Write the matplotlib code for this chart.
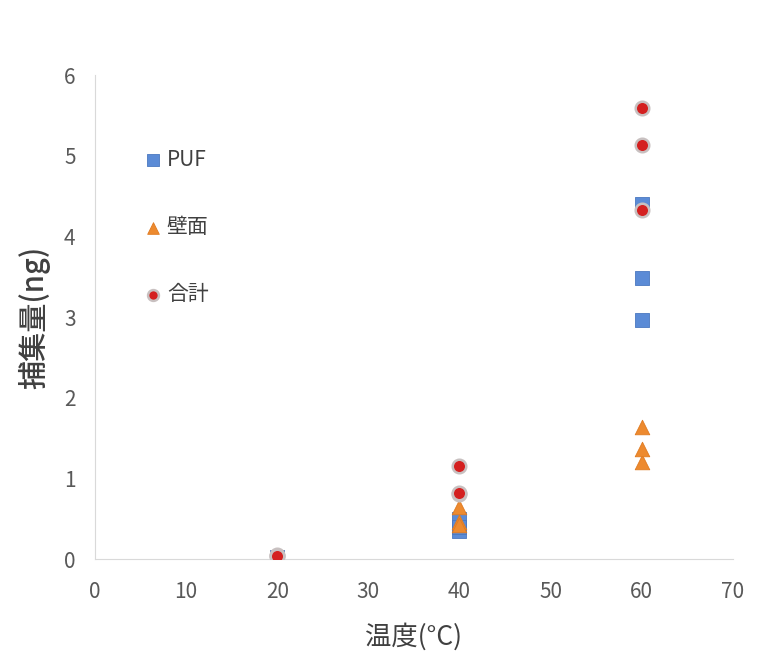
import matplotlib
matplotlib.use("Agg")
import matplotlib.pyplot as plt

plt.rcParams['font.family'] = ['Noto Sans CJK JP', 'DejaVu Sans']

# temperature (°C) for each replicate
temps = [20, 20, 20, 40, 40, 40, 60, 60, 60]
puf = [0.01, 0.02, 0.01, 0.50, 0.35, 0.40, 4.40, 3.49, 2.96]
wall = [0.02, 0.03, 0.02, 0.65, 0.46, 0.42, 1.21, 1.64, 1.36]
total = [0.04, 0.05, 0.04, 1.16, 0.81, 0.82, 5.59, 5.14, 4.33]

fig = plt.figure(figsize=(7.63, 6.72), dpi=100)
ax = fig.add_axes([0.1245, 0.168, 0.836, 0.72])

ax.scatter(temps, puf, marker='s', s=100, color='#5b8bd6', edgecolors='#4a78c0',
           linewidths=0.6, label='PUF', zorder=3)
ax.scatter(temps, wall, marker='^', s=110, color='#ed8a2f', edgecolors='#e07a20',
           linewidths=0.6, label='壁面', zorder=4)
ax.scatter(temps, total, marker='o', s=95, color='#d42020', edgecolors='#c8c0c0',
           linewidths=1.8, label='合計', zorder=5)

ax.set_xlim(0, 70)
ax.set_ylim(0, 6)
ax.set_xticks(range(0, 71, 10))
ax.set_yticks(range(0, 7))
ax.tick_params(length=0, labelsize=15, labelcolor='#595959')
ax.tick_params(axis='x', pad=16)
ax.tick_params(axis='y', pad=14)

for side in ['top', 'right']:
    ax.spines[side].set_visible(False)
for side in ['left', 'bottom']:
    ax.spines[side].set_color('#d9d9d9')
    ax.spines[side].set_linewidth(0.8)

ax.set_xlabel('温度(°C)', fontsize=19, color='#404040', labelpad=14)
ax.set_ylabel('捕集量(ng)', fontsize=21, color='#404040', labelpad=10, fontweight='medium')

leg = ax.legend(loc='upper left', bbox_to_anchor=(0.062, 0.865), frameon=False,
                fontsize=15, labelspacing=2.17, handletextpad=0.15, handlelength=1.0,
                markerscale=0.8, borderaxespad=0)
for t in leg.get_texts():
    t.set_color('#404040')

fig.savefig('out.png', dpi=100)
